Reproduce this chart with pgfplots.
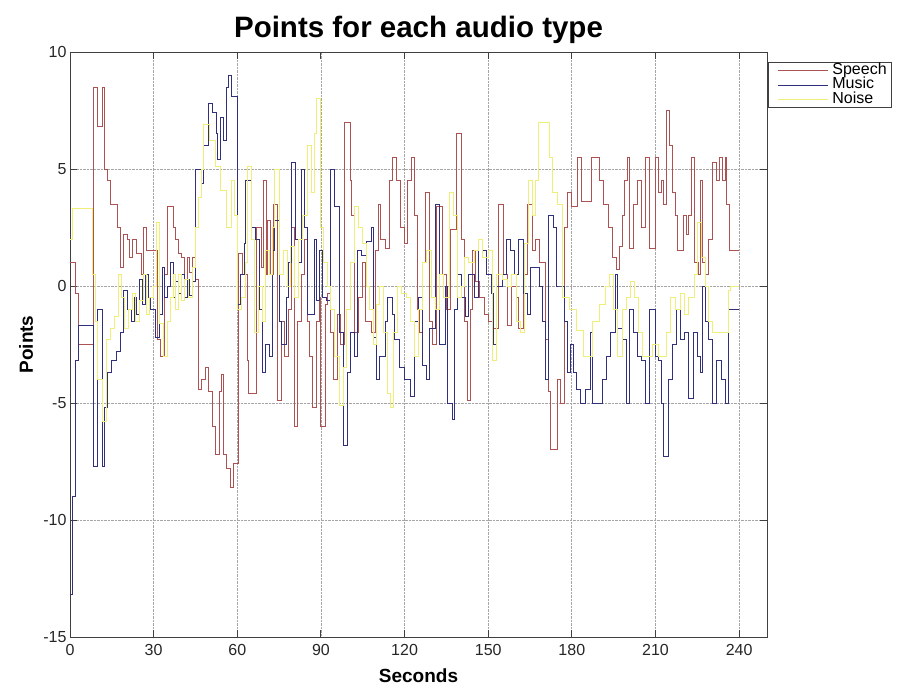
\documentclass[border=0pt]{standalone}
\usepackage{fontspec}
\setmainfont{Liberation Sans}
\usepackage{pgfplots}
\pgfplotsset{compat=1.18}
\definecolor{speechc}{RGB}{172,82,82}
\definecolor{musicc}{RGB}{48,48,125}
\definecolor{noisec}{RGB}{238,238,120}
\begin{document}
\begin{tikzpicture}
\begin{axis}[
  at={(0pt,0pt)}, anchor=south west,
  scale only axis, width=697pt, height=585pt,
  xmin=0, xmax=250, ymin=-15, ymax=10,
  xtick={0,30,60,90,120,150,180,210,240},
  xticklabels={0,30,60,90,120,150,180,210,240},
  ytick={-15,-10,-5,0,5,10},
  yticklabels={-15,-10,-5,0,5,10},
  tick align=inside, major tick length=7pt,
  xtick pos=both, ytick pos=both,
  grid=major,
  major grid style={gray!70, densely dotted, line width=0.8pt},
  axis line style={black!75, line width=0.9pt},
  every tick/.style={black!75, line width=0.9pt},
  tick label style={font=\fontsize{16pt}{16pt}\selectfont, black!85},
  xticklabel style={yshift=-4pt},
  title={\bfseries Points for each audio type},
  title style={font=\fontsize{29.5pt}{29.5pt}\selectfont, at={(axis description cs:0.5,1)}, anchor=south, yshift=-1.5pt},
  xlabel={\bfseries Seconds},
  xlabel style={font=\fontsize{19pt}{19pt}\selectfont, at={(axis description cs:0.5,0)}, anchor=base, yshift=-46pt},
  ylabel={\bfseries Points},
  ylabel style={font=\fontsize{19pt}{19pt}\selectfont, at={(axis description cs:0,0.5)}, anchor=base, yshift=37pt},
  legend style={at={(axis description cs:1.0015,0.983)}, anchor=north west, draw=black!75, line width=0.9pt,
    font=\fontsize{16pt}{16pt}\selectfont, inner sep=1pt, row sep=0pt, legend cell align=left,
    nodes={text height=10.5pt, text depth=2.5pt, inner ysep=0.7pt, inner xsep=4pt}},
  legend image code/.code={\path (0pt,0pt); \draw[#1, line width=0.9pt] (8pt,0pt) -- (58pt,0pt);},
  every axis plot/.append style={line width=0.9pt},
]
\addplot[const plot, speechc] table {
0 1.0
2 -0.3
3 -2.5
8.5 8.5
10 6.8
11.5 8.5
12.5 5.0
13.5 4.5
14.5 3.5
17 2.5
18 0.8
19 2.2
20.5 2.0
21.5 1.2
22.5 2.0
24 1.4
25.5 0.5
26.5 2.5
27.5 1.5
31.5 -2.3
32.5 -3.0
34 0.5
35 3.4
37 2.5
38 2.0
39 1.4
40 1.2
41 0.3
42 1.2
43 0.6
44 1.2
45 0.3
46 -4.4
47 -4.0
48.5 -3.5
49.5 -4.5
51 -6.0
52 -7.2
53.5 -4.5
54.5 -3.8
55 -7.2
56 -7.8
57.5 -8.6
58.5 -7.6
60.5 1.4
62 0.5
63.5 -3.2
64 -4.6
67 2.5
68.5 0.8
69.5 4.5
70.5 0.5
71 2.8
72 0.5
73 3.5
74.5 -4.9
76 -1.5
77 -3.0
78.5 -1.0
79.5 2.5
80.5 -6.0
81.5 -1.5
83 0.5
84 2.0
85 -1.5
86 -3.0
87 -5.2
88.5 -1.5
89.5 -0.5
90 -6.0
91.5 -0.8
92.5 -0.3
93.5 -2.0
94.5 -4.0
96 -1.2
97 -2.5
98.5 7.0
100.5 4.5
101 3.0
102 -2.0
103.5 -0.5
105 1.0
106 -1.5
108 -2.0
109.5 1.5
110.5 3.5
111.5 2.0
113 1.6
114.5 4.5
115.5 5.5
117 4.5
118.5 2.5
120 1.8
121 4.5
122.5 5.5
123.5 3.0
124.5 -1.0
125.5 -2.0
126.5 1.0
127.5 4.0
129 -1.5
130 -2.5
131.5 3.4
133.5 0.5
135 -1.0
136.5 2.4
138.5 6.5
140.5 2.0
141.5 -1.5
142.5 -4.9
143.5 -1.0
144.5 1.5
145.5 0.2
147 -0.5
148.5 -1.2
150 -1.5
152 -1.8
153.5 3.5
155.5 0.5
157 -1.7
158.5 0.0
160 -0.5
161 -1.8
162.5 0.5
164 3.5
166 1.5
167 2.0
168.5 1.0
170.5 -2.3
171.5 -4.5
172.5 -7.0
175 -4.0
176 -5.0
177.5 2.5
178.5 4.0
180 3.4
182 5.5
183.5 3.6
187 5.5
190 4.5
191.5 3.5
193 2.5
194.5 1.2
196 0.7
197 1.7
198 3.0
199 4.5
200 5.5
200.5 1.6
202 3.5
203.5 4.5
205 2.5
206.5 5.5
208 1.6
210 5.5
211 4.0
212 4.5
213 3.5
214 7.5
215 6.0
216 4.0
217 3.0
218 1.5
220 3.0
221 2.2
222 3.0
223 5.5
224 1.0
225.5 0.5
226 4.5
227 1.0
228 0.5
229 2.0
230.5 5.3
232 4.5
233 5.5
234 4.5
235 5.5
235.5 3.5
236.5 1.5
240 1.5
};
\addlegendentry{Speech}
\addplot[const plot, musicc] table {
0 -13.2
1 -9.0
2 -3.2
3 -1.7
8.5 -7.7
10 -1.0
11.5 -7.7
12.5 -5.2
13.5 -3.7
15 -3.2
16.5 -2.8
18 -2.0
19 -0.2
20.5 -1.0
22 -1.5
23 -0.5
24 -1.2
25 0.3
26 -0.8
27 0.5
28 -0.5
29 -1.0
30.5 -2.2
32 -1.2
33 0.8
34 -0.5
35 0.0
36 1.0
37 -0.5
38 0.2
39 -0.3
40 0.5
41 -0.5
42 0.3
43 -0.4
44 0.2
45 5.0
47 4.4
48 6.0
49.5 7.8
51 7.4
52.5 6.5
53 5.4
54 7.2
55 6.2
56 8.5
57 9.0
58 8.1
60 -0.8
61 0.5
62.5 1.8
63 4.5
65 2.5
66.5 2.0
68 -1.0
69 -3.7
70 -2.5
71.5 -3.0
72.5 1.5
73.5 2.8
75 -1.5
76 -2.5
77.5 -0.5
78.5 1.0
79.5 5.3
81 2.0
82 1.0
83 5.0
84 2.5
85 -1.2
86.5 -1.2
87.5 2.0
88.5 -0.6
89.5 1.5
90.5 -0.5
92 -0.6
93.5 5.0
95 3.4
96.5 -2.0
98 -6.8
99.5 -3.7
100.5 -2.0
102 -3.0
103 1.5
104.5 1.3
106.5 1.9
108 2.5
109 -2.2
110 -4.0
111 -3.0
113 -1.5
114 -0.5
115.5 -1.2
116.5 -2.3
118 -3.5
120 -4.0
122 -4.7
123.5 -1.5
125 -0.5
126.5 -3.4
128 -4.0
129 -1.8
131 3.5
132.5 -2.5
134.5 0.0
135.5 -5.0
137 -5.7
138 -1.0
139 0.5
140.5 -0.5
142 -1.3
143 0.5
145 -0.5
146.5 2.0
148 1.5
149.5 0.5
151 -0.3
152 -2.5
153 0.0
155 0.5
156.5 2.0
158 1.5
159.5 0.5
161 2.0
162.5 -0.3
164 -1.2
165 0.8
167 0.8
168.5 0.0
169.5 -1.5
170.5 -4.0
171.5 3.0
173.5 2.5
174.5 0.0
176 0.0
177.5 -1.5
178.5 -3.7
179.5 -2.5
180.5 -3.7
181.5 -4.4
183 -5.0
185 -4.4
186.5 -2.0
187.5 -5.0
191 -4.0
192.5 -3.0
194 -2.0
195.5 0.5
196.5 -1.8
198 -2.3
199.5 -5.0
200.5 -1.0
202 -2.0
203.5 -3.0
205 -3.2
206.5 -5.0
208 -1.0
210 -3.0
211 -3.2
212 -5.0
213 -7.3
214.5 -4.0
216 -2.5
217.5 -1.0
219 -2.3
220.5 -2.0
222 -4.8
223.5 -2.0
225 -3.0
226 -3.7
227 0.0
228 -1.5
229 -2.3
230.5 -5.0
232 -3.2
233.5 -4.0
235 -5.0
236 -1.0
240 -1.0
};
\addlegendentry{Music}
\addplot[const plot, noisec] table {
0 2.0
1 3.3
8 0.5
9 -1.5
10 -4.0
11.5 -5.8
13 -2.3
14.5 -1.8
16 -1.3
17.5 0.5
18.5 -0.5
19.5 -1.8
21 -1.0
22.5 -0.3
23.5 -1.5
25 -0.6
26.5 0.5
27.5 -1.2
28.5 -0.5
30 0.0
31 2.7
32 -1.6
33.5 -3.0
35 -1.5
36 -0.5
37 0.5
38 -1.0
39 0.5
40 -0.6
41 0.3
42.5 -0.5
44 0.8
45 2.5
46 3.8
47 5.0
48 6.9
50 6.2
52 5.1
54 4.1
56 2.5
58 4.5
59 3.0
60 -1.0
61.5 -0.5
63 1.0
63.5 5.1
65 2.0
66 -2.0
67.5 0.0
69 -1.5
70 1.5
71.5 0.5
72.5 2.5
73.5 5.0
75 0.5
76.5 1.5
78 0.0
79 1.7
80.5 -0.5
82 2.0
83.5 3.0
85 6.0
86.5 4.0
87.5 6.5
88.5 8.0
90 2.5
91 1.0
92.5 0.0
93.5 -1.0
95 -3.0
96.5 -5.1
98 -3.5
99 -1.0
100.5 1.0
102 3.4
103.5 2.5
105 1.8
106.5 0.0
107.5 -1.0
109 -2.5
110 -0.8
111 0.0
112.5 -2.0
114 -4.6
115 -5.2
116 -2.0
117.5 0.0
119 -0.3
120.5 -0.5
122 -1.5
123.5 -3.0
125 -1.0
126.5 1.0
128 1.5
129.5 -0.5
131 -1.0
132.5 0.5
134 -0.5
136 4.0
137.5 3.0
139 -0.5
140.5 0.0
141.5 1.2
143 1.0
145 1.5
146.5 2.0
148 1.2
150 1.5
151.5 -3.2
153 0.5
155 0.3
157 0.0
158.5 0.5
160 -1.5
161.5 -2.0
163 1.8
164.5 4.5
166 3.0
167 4.5
168 7.0
172 5.5
173 4.0
175 3.5
176.5 -0.5
179 -1.0
181.5 -1.9
184 -3.0
187.5 -1.5
190 -0.8
192 0.0
193.5 0.5
195 -1.0
196.5 -3.0
198 -1.0
199.5 -0.5
201 0.2
202.5 -0.5
204 -2.0
205.5 -3.0
207 -3.0
209 -2.5
211 -3.0
214 -2.0
215.5 -0.5
217 -1.0
219 -0.3
220.5 -1.2
222 -0.5
224 0.5
225 2.7
226.5 1.2
228 0.0
229 -1.5
230.5 -2.0
236 -0.2
237 0.0
240 0.0
};
\addlegendentry{Noise}
\end{axis}
\useasboundingbox (-70pt,-51pt) rectangle (833pt,637pt);
\end{tikzpicture}
\end{document}
